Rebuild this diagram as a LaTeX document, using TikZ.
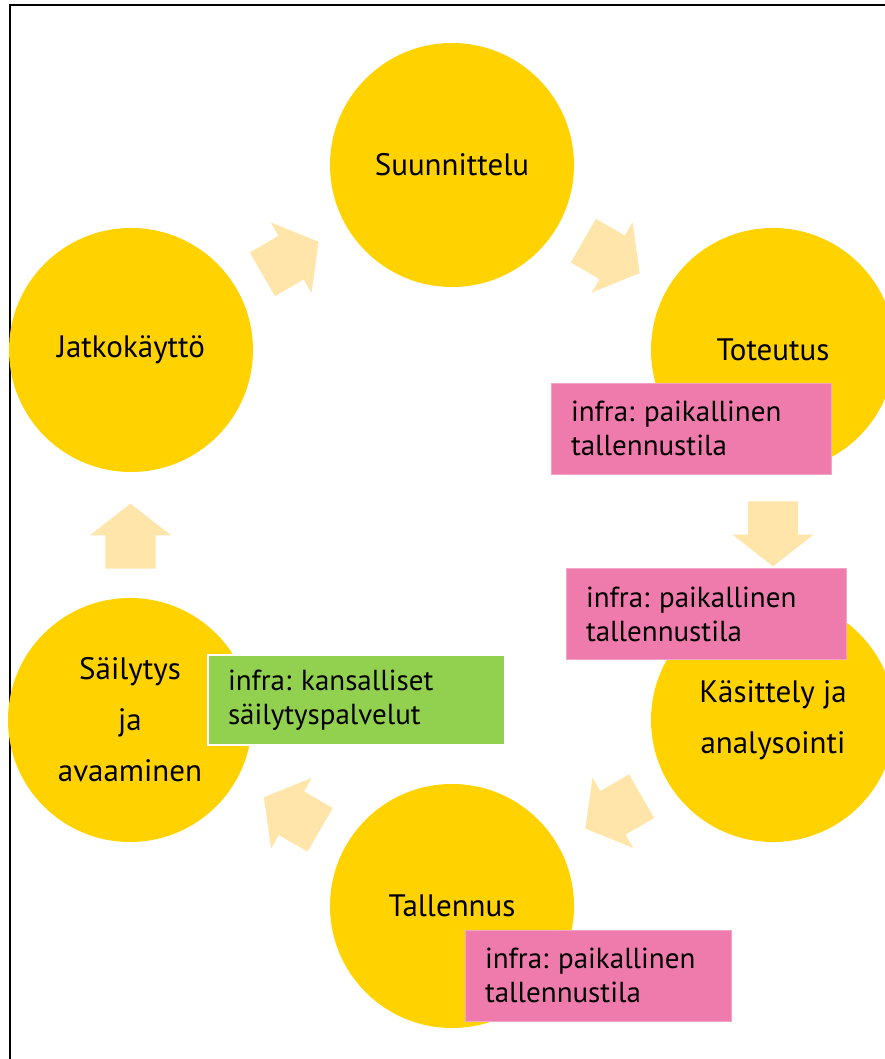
\documentclass[tikz,border=0pt]{standalone}
\usepackage{fontspec}
\setmainfont{PT Sans}
\usetikzlibrary{shapes.arrows, calc, positioning}
\definecolor{vaiheyellow}{HTML}{FFD200}
\definecolor{infrapink}{HTML}{EE7BAC}
\definecolor{infragreen}{HTML}{92D050}
\definecolor{nuolicolor}{HTML}{FFE5A9}

\begin{document}
\begin{tikzpicture}[x=1pt, y=1pt,
  vaihe/.style={circle, fill=vaiheyellow, minimum size=244pt, inner sep=0pt, align=center, font=\fontsize{31}{51}\selectfont},
  infra/.style={fill=infrapink, draw=infrapink!70!white, line width=0.6pt, minimum height=91pt, inner xsep=20pt, inner ysep=0pt, align=left, font=\fontsize{29}{34}\selectfont\frenchspacing},
  nuoli/.style={single arrow, fill=nuolicolor, minimum height=65pt, inner xsep=0pt, inner ysep=25pt, single arrow head extend=15.5pt, single arrow tip angle=104}]
  \clip (0,0) rectangle (885,1059);
  \draw[line width=2pt] (10,-10) rectangle (900,1054);

  % vaiheet
  \node[vaihe] (sun) at (452,894) {Suunnittelu};
  \node[vaihe] (tot) at (773,709) {Toteutus};
  \node[vaihe] (kas) at (773,339) {Käsittely ja\\analysointi};
  \node[vaihe] (tal) at (452,153) {Tallennus};
  \node[vaihe] (sai) at (130,339) {Säilytys\\ja\\avaaminen};
  \node[vaihe] (jat) at (131,709) {Jatkokäyttö};

  % nuolet
  \node[nuoli, rotate=30, xshift=-11pt] (n1) at ($(jat)!0.5!(sun)$) {};
  \node[nuoli, rotate=-30, xshift=-11pt] (n2) at ($(sun)!0.5!(tot)$) {};
  \node[nuoli, rotate=-90, xshift=-11pt] (n3) at ($(tot)!0.5!(kas)$) {};
  \node[nuoli, rotate=-150, xshift=-11pt] (n4) at ($(kas)!0.5!(tal)$) {};
  \node[nuoli, rotate=150, xshift=-11pt] (n5) at ($(tal)!0.5!(sai)$) {};
  \node[nuoli, rotate=90, xshift=-11pt] (n6) at ($(sai)!0.5!(jat)$) {};

  % infra
  \node[infra, text width=240pt] (inf1) at (691,630.5) {infra: paikallinen\\tallennustila};
  \node[infra, text width=240pt] (inf2) at (706,445) {infra: paikallinen\\tallennustila};
  \node[infra, text width=226pt] (inf3) at (598,83.5) {infra: paikallinen\\tallennustila};
  \node[infra, fill=infragreen, draw=white, line width=1.2pt, text width=257pt, minimum height=90pt] (inf4) at (356.5,359) {infra: kansalliset\\säilytyspalvelut};
\end{tikzpicture}
\end{document}
